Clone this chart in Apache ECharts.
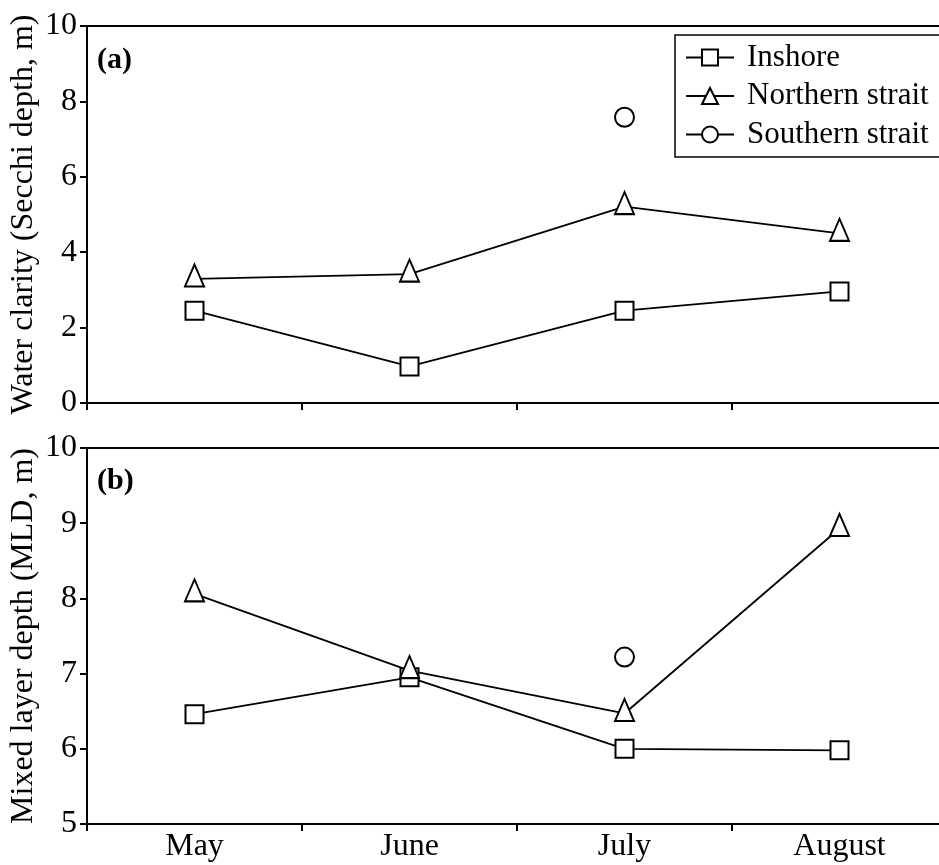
<!DOCTYPE html>
<html>
<head>
<meta charset="utf-8">
<script src="https://cdn.jsdelivr.net/npm/echarts@6/dist/echarts.min.js"></script>
<style>
  html, body { margin: 0; padding: 0; background: #fff; }
  #chart { width: 939px; height: 865px; }
</style>
</head>
<body>
<div id="chart"></div>
<script>
// Sampling months
const months = ['May', 'June', 'July', 'August'];

// (a) Water clarity, Secchi depth (m)
const clarityInshore = [2.45, 0.97, 2.45, 2.96];
const clarityNorthern = [3.29, 3.42, 5.21, 4.5];
const claritySouthern = [null, null, 7.58, null];

// (b) Mixed layer depth (m)
const mldInshore = [6.46, 6.95, 6.0, 5.98];
const mldNorthern = [8.06, 7.04, 6.47, 8.93];
const mldSouthern = [null, null, 7.22, null];

// Axis ranges
const clarityAxis = { min: 0, max: 10, interval: 2 };
const mldAxis = { min: 5, max: 10, interval: 1 };

const FONT = '"Liberation Serif", "Times New Roman", serif';
const INK = '#000';

const chart = echarts.init(document.getElementById('chart'), null, { renderer: 'canvas' });

const lineStyle = { color: INK, width: 1.8 };
const itemStyle = { color: '#fff', borderColor: INK, borderWidth: 2 };

const markerFor = {
  Inshore: { symbol: 'rect', symbolSize: 18, symbolOffset: [0, 0] },
  'Northern strait': { symbol: 'triangle', symbolSize: [19, 22], symbolOffset: [0, -3.5] },
  'Southern strait': { symbol: 'circle', symbolSize: 19, symbolOffset: [0, 0] }
};

function makeSeries(name, data, axisIndex) {
  return Object.assign({
    name: name,
    type: 'line',
    data: data,
    xAxisIndex: axisIndex,
    yAxisIndex: axisIndex,
    showSymbol: true,
    showAllSymbol: true,
    connectNulls: false,
    lineStyle: lineStyle,
    itemStyle: itemStyle,
    emphasis: { disabled: true },
    animation: false,
    z: 3
  }, markerFor[name]);
}

function yAxisFor(range, name, gridIndex) {
  return {
    type: 'value',
    gridIndex: gridIndex,
    min: range.min,
    max: range.max,
    interval: range.interval,
    name: name,
    nameLocation: 'middle',
    nameGap: 47,
    nameMoveOverlap: false,
    nameTextStyle: { color: INK, fontFamily: FONT, fontSize: 32 },
    axisLine: { show: true, lineStyle: { color: INK, width: 2 } },
    axisTick: { show: true, inside: false, length: 7, lineStyle: { color: INK, width: 2 } },
    axisLabel: { color: INK, fontFamily: FONT, fontSize: 32, margin: 10 },
    splitLine: { show: false }
  };
}

function xAxisFor(gridIndex, showLabels) {
  return {
    type: 'category',
    gridIndex: gridIndex,
    data: months,
    boundaryGap: true,
    axisLine: { show: true, onZero: false, lineStyle: { color: INK, width: 2 } },
    axisTick: { show: true, inside: false, alignWithLabel: false, length: 7, lineStyle: { color: INK, width: 2 } },
    axisLabel: { show: showLabels, color: INK, fontFamily: FONT, fontSize: 32, margin: 7 },
    splitLine: { show: false }
  };
}

const panelTitle = (text, top) => ({
  text: text,
  left: 92,
  top: top,
  padding: 5,
  textStyle: { color: INK, fontFamily: FONT, fontSize: 30, fontWeight: 'bold' }
});

// The plot boxes run past the right edge of the canvas, so only their
// top, left and bottom edges are seen.
const gridBase = {
  left: 87,
  width: 860,
  show: true,
  borderColor: INK,
  borderWidth: 2,
  backgroundColor: 'transparent',
  outerBoundsMode: 'none',
  containLabel: false
};

chart.setOption({
  backgroundColor: '#fff',
  animation: false,
  title: [panelTitle('(a)', 40), panelTitle('(b)', 461)],
  legend: {
    data: ['Inshore', 'Northern strait', 'Southern strait'],
    orient: 'vertical',
    left: 675,
    top: 35,
    itemWidth: 48,
    itemHeight: 20,
    itemGap: 7.5,
    padding: [7, 30, 7, 10],
    borderColor: INK,
    borderWidth: 1.5,
    backgroundColor: '#fff',
    selectedMode: false,
    textStyle: { color: INK, fontFamily: FONT, fontSize: 31, lineHeight: 30, padding: [0, 0, 0, 8] }
  },
  grid: [
    Object.assign({ top: 26, height: 377 }, gridBase),
    Object.assign({ top: 448, height: 376 }, gridBase)
  ],
  xAxis: [xAxisFor(0, false), xAxisFor(1, true)],
  yAxis: [
    yAxisFor(clarityAxis, 'Water clarity (Secchi depth, m)', 0),
    yAxisFor(mldAxis, 'Mixed layer depth (MLD, m)', 1)
  ],
  series: [
    makeSeries('Inshore', clarityInshore, 0),
    makeSeries('Northern strait', clarityNorthern, 0),
    makeSeries('Southern strait', claritySouthern, 0),
    makeSeries('Inshore', mldInshore, 1),
    makeSeries('Northern strait', mldNorthern, 1),
    makeSeries('Southern strait', mldSouthern, 1)
  ]
});
</script>
</body>
</html>
